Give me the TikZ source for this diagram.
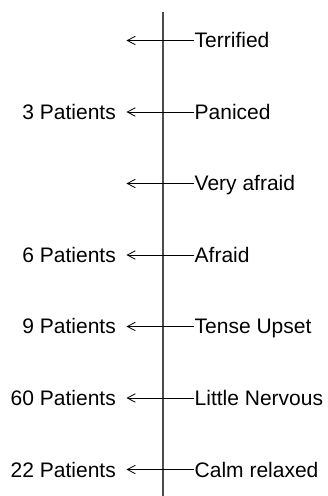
\documentclass[tikz,border=0pt]{standalone}
\usepackage{fontspec}
\setmainfont{Liberation Sans}
\usetikzlibrary{arrows.meta}
\begin{document}
\begin{tikzpicture}[x=1pt,y=1pt,
  every node/.style={font=\fontsize{21}{25}\selectfont, inner sep=0pt},
  axis/.style={draw=black!70, line width=2pt},
  pointer/.style={draw=black, line width=0.8pt, -{Straight Barb[length=8pt,width=8.5pt,line width=0.8pt]}},
  level/.style={anchor=base west},
  count/.style={anchor=base east}]
\useasboundingbox (0,0) rectangle (328,496);
% vertical scale line
\coordinate (top) at (163,484);
\coordinate (bot) at (163,0);
\draw[axis] (top) -- (bot);
% levels: label on the right, arrow pointing left, patient counts on the left
\foreach \i/\lab/\cnt in {0/Terrified/, 1/Paniced/3 Patients, 2/Very afraid/, 3/Afraid/6 Patients, 4/Tense Upset/9 Patients, 5/Little Nervous/60 Patients, 6/Calm relaxed/22 Patients}{
  \pgfmathsetmacro{\yy}{455.5-71.5*\i}
  \node[level] (l\i) at (194.5,\yy-7.5) {\lab};
  \coordinate (s\i) at (194,\yy);
  \coordinate (e\i) at (126.5,\yy);
  \draw[pointer] (s\i) -- (e\i);
  \node[count] (c\i) at (116,\yy-7.5) {\cnt};
}
\end{tikzpicture}
\end{document}
